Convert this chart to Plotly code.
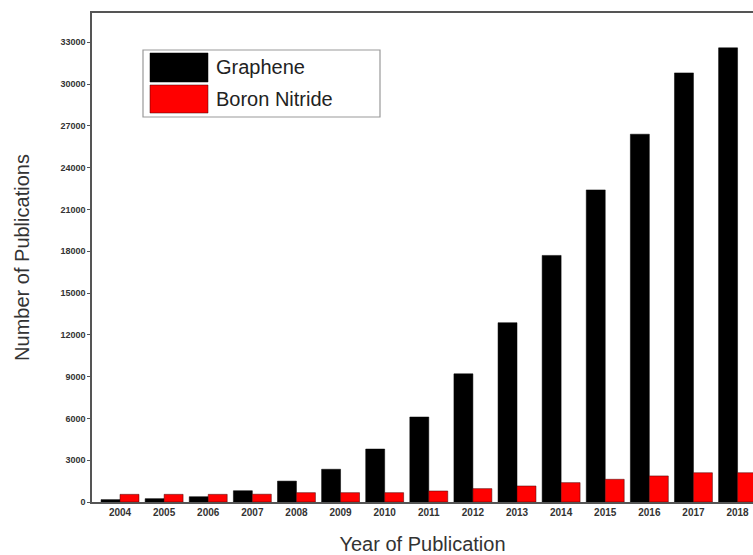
import plotly.graph_objects as go

years = [str(y) for y in range(2004, 2019)]
graphene = [170, 240, 380, 810, 1500, 2350, 3800, 6100, 9200, 12870, 17700, 22400, 26400, 30800, 32600]
boron_nitride = [550, 550, 550, 560, 670, 670, 670, 790, 960, 1150, 1390, 1630, 1870, 2100, 2100]
y_ticks = list(range(0, 33001, 3000))

W, H = 753, 555
L, R, T, B = 92, 0, 13, 53
pw, ph = W - L - R, H - T - B

def px(x):
    return (x - L) / pw

def py(y):
    return (H - B - y) / ph

fig = go.Figure()
fig.add_trace(go.Bar(x=years, y=graphene, name="Graphene",
                     marker=dict(color="#000000", line=dict(color="#000000", width=0.5))))
fig.add_trace(go.Bar(x=years, y=boron_nitride, name="Boron Nitride",
                     marker=dict(color="#ff0000", line=dict(color="#400000", width=0.5))))

font = "Liberation Sans, Arial, sans-serif"

fig.update_layout(
    width=W, height=H,
    margin=dict(l=L, r=R, t=T, b=B),
    paper_bgcolor="white", plot_bgcolor="white",
    barmode="group", bargap=0.14, bargroupgap=0,
    showlegend=False,
    font=dict(family=font, color="#222"),
)
fig.update_xaxes(
    type="category", range=[-0.635, 14.35],
    showline=True, linecolor="#555", linewidth=1.5, mirror=True,
    ticks="", showgrid=False,
    tickfont=dict(size=10, color="#333", weight="bold"),
    title=dict(text="Year of Publication", font=dict(size=20, color="#333"), standoff=20),
)
fig.update_yaxes(
    range=[0, 35100], tickvals=y_ticks, ticktext=[str(v) for v in y_ticks],
    showline=True, linecolor="#555", linewidth=1.5, mirror=False,
    ticks="outside", ticklen=3, tickcolor="#555", showgrid=False, zeroline=False,
    tickfont=dict(size=9, color="#333", weight="bold"),
    title=dict(text="Number of Publications", font=dict(size=20, color="#333"), standoff=25),
)

# legend box drawn in paper coordinates
shapes = [
    dict(type="rect", xref="paper", yref="paper", x0=px(143), x1=px(380), y0=py(117), y1=py(50),
         line=dict(color="#999", width=1.2), fillcolor="white"),
    dict(type="rect", xref="paper", yref="paper", x0=px(150), x1=px(208), y0=py(82), y1=py(53),
         line=dict(color="#000", width=0.5), fillcolor="#000000"),
    dict(type="rect", xref="paper", yref="paper", x0=px(150), x1=px(208), y0=py(113), y1=py(85),
         line=dict(color="#400000", width=0.5), fillcolor="#ff0000"),
]
annotations = [
    dict(xref="paper", yref="paper", x=px(214), y=py(67), text="Graphene", showarrow=False,
         xanchor="left", yanchor="middle", font=dict(size=20, color="#222")),
    dict(xref="paper", yref="paper", x=px(214), y=py(99), text="Boron Nitride", showarrow=False,
         xanchor="left", yanchor="middle", font=dict(size=20, color="#222")),
]
fig.update_layout(shapes=shapes, annotations=annotations)

fig.write_html("out.html", config={"displayModeBar": False},
               post_script="document.body.style.margin='0';document.body.style.overflow='hidden';")
